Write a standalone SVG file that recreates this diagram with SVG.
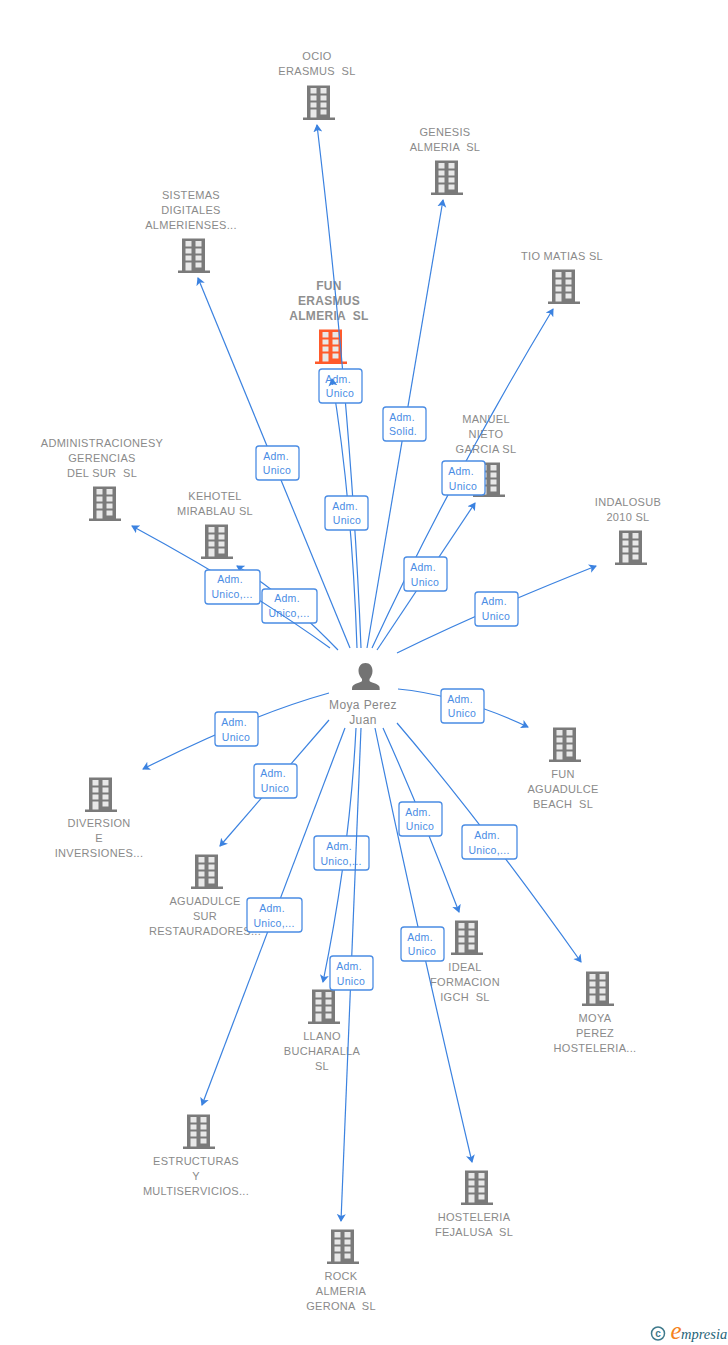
<svg xmlns="http://www.w3.org/2000/svg" width="728" height="1345" viewBox="0 0 728 1345">
<style>
text{font-family:"Liberation Sans",Arial,sans-serif;white-space:pre}
.n{font-size:11px;fill:#8a8a8a;text-anchor:middle;letter-spacing:.3px}
.f{font-size:12px;fill:#8f8f8f;text-anchor:middle;font-weight:bold;letter-spacing:.3px}
.p{font-size:12px;fill:#888;text-anchor:middle;letter-spacing:.4px}
.l{font-size:10.5px;fill:#4a8ce4;text-anchor:middle;letter-spacing:.3px}
.c{fill:none;stroke:#3b82e0;stroke-width:1.2;marker-end:url(#a)}
.b{fill:#fff;stroke:#4a8ce4;stroke-width:1.3}
.w{fill:#e8e8e8}
</style>
<defs>
<marker id="a" markerWidth="10" markerHeight="10" refX="7" refY="4.500" orient="auto" markerUnits="userSpaceOnUse"><path d="M0 0L8 4.500L0 9L2 4.500Z" fill="#3b82e0"/></marker>
<symbol id="bld" viewBox="0 0 32 34" width="32" height="34" overflow="visible"><path fill="currentColor" d="M4 -.5H27V31.500H32V34H0V31.500H4Z"/><path class="w" d="M7.500 2H13.500V7.500H7.500ZM17.500 2H23.500V7.500H17.500ZM7.500 9.500H13.500V14.500H7.500ZM17.500 9.500H23.500V14.500H17.500ZM7.500 16.500H13.500V21.500H7.500ZM17.500 16.500H23.500V21.500H17.500ZM7.500 23.500H13.500V31.500H7.500ZM17.500 23.500H23.500V28.500H17.500Z"/></symbol>
</defs>
<rect width="728" height="1345" fill="#fff"/>
<g id="fun-erasmus" color="#ff5a2b"><use href="#bld" x="315" y="330"/><text class="f" x="329" y="290">FUN</text><text class="f" x="329" y="305">ERASMUS</text><text class="f" x="329" y="320">ALMERIA  SL</text></g>
<g id="ocio" color="#7a7a7a"><use href="#bld" x="303" y="86"/><text class="n" x="317" y="60">OCIO</text><text class="n" x="317" y="75">ERASMUS  SL</text></g>
<g id="genesis" color="#7a7a7a"><use href="#bld" x="431" y="161"/><text class="n" x="445" y="136">GENESIS</text><text class="n" x="445" y="151">ALMERIA  SL</text></g>
<g id="sistemas" color="#7a7a7a"><use href="#bld" x="178" y="239"/><text class="n" x="191" y="199">SISTEMAS</text><text class="n" x="191" y="214">DIGITALES</text><text class="n" x="191" y="229">ALMERIENSES...</text></g>
<g id="tio-matias" color="#7a7a7a"><use href="#bld" x="548" y="270"/><text class="n" x="562" y="260">TIO MATIAS SL</text></g>
<g id="manuel" color="#7a7a7a"><use href="#bld" x="473" y="463"/><text class="n" x="486" y="423">MANUEL</text><text class="n" x="486" y="438">NIETO</text><text class="n" x="486" y="453">GARCIA SL</text></g>
<g id="administraciones" color="#7a7a7a"><use href="#bld" x="89" y="487"/><text class="n" x="102" y="447">ADMINISTRACIONESY</text><text class="n" x="102" y="462">GERENCIAS</text><text class="n" x="102" y="477">DEL SUR  SL</text></g>
<g id="kehotel" color="#7a7a7a"><use href="#bld" x="201" y="525"/><text class="n" x="215" y="500">KEHOTEL</text><text class="n" x="215" y="515">MIRABLAU SL</text></g>
<g id="indalosub" color="#7a7a7a"><use href="#bld" x="615" y="531"/><text class="n" x="628" y="506">INDALOSUB</text><text class="n" x="628" y="521">2010 SL</text></g>
<g id="fun-aguadulce" color="#7a7a7a"><use href="#bld" x="549" y="728"/><text class="n" x="563" y="778">FUN</text><text class="n" x="563" y="793">AGUADULCE</text><text class="n" x="563" y="808">BEACH  SL</text></g>
<g id="diversion" color="#7a7a7a"><use href="#bld" x="85" y="778"/><text class="n" x="99" y="827">DIVERSION</text><text class="n" x="99" y="842">E</text><text class="n" x="99" y="857">INVERSIONES...</text></g>
<g id="aguadulce-sur" color="#7a7a7a"><use href="#bld" x="191" y="855"/><text class="n" x="205" y="905">AGUADULCE</text><text class="n" x="205" y="920">SUR</text><text class="n" x="205" y="935">RESTAURADORES...</text></g>
<g id="ideal" color="#7a7a7a"><use href="#bld" x="451" y="921"/><text class="n" x="465" y="971">IDEAL</text><text class="n" x="465" y="986">FORMACION</text><text class="n" x="465" y="1001">IGCH  SL</text></g>
<g id="moya-perez" color="#7a7a7a"><use href="#bld" x="582" y="972"/><text class="n" x="595" y="1022">MOYA</text><text class="n" x="595" y="1037">PEREZ</text><text class="n" x="595" y="1052">HOSTELERIA...</text></g>
<g id="llano" color="#7a7a7a"><use href="#bld" x="308" y="990"/><text class="n" x="322" y="1040">LLANO</text><text class="n" x="322" y="1055">BUCHARALLA</text><text class="n" x="322" y="1070">SL</text></g>
<g id="estructuras" color="#7a7a7a"><use href="#bld" x="183" y="1115"/><text class="n" x="196" y="1165">ESTRUCTURAS</text><text class="n" x="196" y="1180">Y</text><text class="n" x="196" y="1195">MULTISERVICIOS...</text></g>
<g id="hosteleria" color="#7a7a7a"><use href="#bld" x="461" y="1171"/><text class="n" x="474" y="1221">HOSTELERIA</text><text class="n" x="474" y="1236">FEJALUSA  SL</text></g>
<g id="rock" color="#7a7a7a"><use href="#bld" x="327" y="1230"/><text class="n" x="341" y="1280">ROCK</text><text class="n" x="341" y="1295">ALMERIA</text><text class="n" x="341" y="1310">GERONA  SL</text></g>
<g id="connectors">
<path class="c" d="M357 648Q352 500 332 379"/>
<path class="c" d="M361 648Q352 420 317 125"/>
<g><rect class="b" x="325" y="496" width="43" height="34" rx="3"/><text class="l" x="345" y="510">Adm.</text><text class="l" x="347" y="524">Unico</text></g>
<g><rect class="b" x="319" y="369" width="43" height="34" rx="3"/><text class="l" x="338" y="383">Adm.</text><text class="l" x="340" y="397">Unico</text></g>
<path class="c" d="M332.800 385L332 379"/>
<path class="c" d="M367 648L443 200"/>
<g><rect class="b" x="383" y="407" width="43" height="34" rx="3"/><text class="l" x="402" y="421">Adm.</text><text class="l" x="403" y="435">Solid.</text></g>
<path class="c" d="M350 648L198 278"/>
<g><rect class="b" x="256" y="446" width="43" height="34" rx="3"/><text class="l" x="276" y="460">Adm.</text><text class="l" x="277" y="474">Unico</text></g>
<path class="c" d="M372 648Q450 480 553 309"/>
<g><rect class="b" x="442" y="461" width="43" height="34" rx="3"/><text class="l" x="461" y="475">Adm.</text><text class="l" x="463" y="490">Unico</text></g>
<path class="c" d="M377 650L475 503"/>
<g><rect class="b" x="404" y="557" width="43" height="34" rx="3"/><text class="l" x="423" y="571">Adm.</text><text class="l" x="425" y="586">Unico</text></g>
<path class="c" d="M338 650Q285 595 237 566"/>
<g><rect class="b" x="262" y="589" width="55" height="34" rx="3"/><text class="l" x="287" y="602">Adm.</text><text class="l" x="289" y="617">Unico,...</text></g>
<path class="c" d="M330 648Q250 590 132 526"/>
<g><rect class="b" x="205" y="570" width="55" height="34" rx="3"/><text class="l" x="230" y="583">Adm.</text><text class="l" x="232" y="598">Unico,...</text></g>
<path class="c" d="M397 653Q480 612 596 566"/>
<g><rect class="b" x="475" y="592" width="43" height="34" rx="3"/><text class="l" x="494" y="605">Adm.</text><text class="l" x="496" y="620">Unico</text></g>
<path class="c" d="M398 689Q460 695 528 727"/>
<g><rect class="b" x="441" y="689" width="43" height="34" rx="3"/><text class="l" x="460" y="703">Adm.</text><text class="l" x="462" y="717">Unico</text></g>
<path class="c" d="M329 693Q250 715 143 769"/>
<g><rect class="b" x="215" y="712" width="43" height="34" rx="3"/><text class="l" x="234" y="726">Adm.</text><text class="l" x="236" y="741">Unico</text></g>
<path class="c" d="M329 720L220 846"/>
<g><rect class="b" x="254" y="764" width="43" height="34" rx="3"/><text class="l" x="273" y="777">Adm.</text><text class="l" x="275" y="792">Unico</text></g>
<path class="c" d="M383 728Q420 810 459 912"/>
<g><rect class="b" x="399" y="802" width="43" height="34" rx="3"/><text class="l" x="418" y="816">Adm.</text><text class="l" x="420" y="830">Unico</text></g>
<path class="c" d="M397 723Q480 820 581 962"/>
<g><rect class="b" x="462" y="825" width="55" height="34" rx="3"/><text class="l" x="487" y="839">Adm.</text><text class="l" x="489" y="854">Unico,...</text></g>
<path class="c" d="M356 728Q350 850 323 982"/>
<g><rect class="b" x="314" y="836" width="55" height="34" rx="3"/><text class="l" x="339" y="850">Adm.</text><text class="l" x="341" y="865">Unico,...</text></g>
<path class="c" d="M345 728L202 1105"/>
<g><rect class="b" x="247" y="898" width="55" height="34" rx="3"/><text class="l" x="272" y="912">Adm.</text><text class="l" x="274" y="927">Unico,...</text></g>
<path class="c" d="M375 728Q415 920 472 1162"/>
<g><rect class="b" x="401" y="927" width="43" height="34" rx="3"/><text class="l" x="420" y="941">Adm.</text><text class="l" x="422" y="955">Unico</text></g>
<path class="c" d="M361 728L341 1221"/>
<g><rect class="b" x="330" y="956" width="43" height="34" rx="3"/><text class="l" x="349" y="970">Adm.</text><text class="l" x="351" y="985">Unico</text></g>
</g>
<g id="person">
<path fill="#737373" d="M365.500 663c4.500 0 7 3.500 7 8c0 3.500-1.500 6-3 8v2c2 2 8 2.500 9.500 5c.7 1 .7 2.500.7 4H352c0-1.500 0-3 .7-4c1.500-2.500 7.500-3 9.300-5v-2c-1.500-2-3.500-4.500-3.500-8c0-4.500 2.500-8 7-8Z"/>
<text class="p" x="363" y="709">Moya Perez</text><text class="p" x="363" y="724">Juan</text>
</g>
<g id="brand">
<circle cx="658" cy="1333.500" r="6.500" fill="none" stroke="#3f7a8c" stroke-width="1.500"/>
<text x="658" y="1337" font-size="10" font-weight="bold" fill="#3f7a8c" text-anchor="middle">c</text>
<text x="670.500" y="1339" style="font-family:'Liberation Serif',serif" font-style="italic" font-size="25" fill="#f58220">e</text>
<text x="681" y="1339" style="font-family:'Liberation Serif',serif" font-style="italic" font-size="14.500" fill="#1f6478">mpresia</text>
</g>
</svg>
